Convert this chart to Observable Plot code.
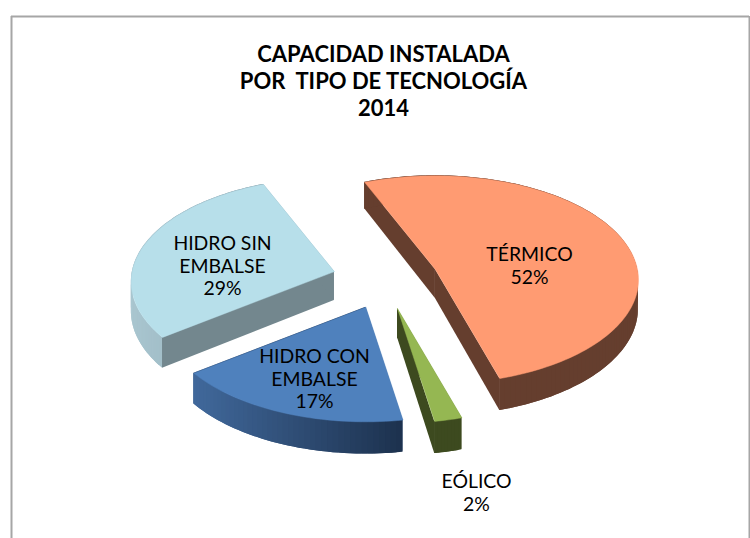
<!DOCTYPE html>
<html>
<head>
<meta charset="utf-8">
<script src="https://cdn.jsdelivr.net/npm/d3@7"></script>
<script src="https://cdn.jsdelivr.net/npm/@observablehq/plot@0.6"></script>
<style>html,body{margin:0;padding:0;background:#fff}svg{display:block}</style>
</head>
<body>
<div id="chart"></div>
<script>
// Data
const titleLines = ["CAPACIDAD INSTALADA", "POR  TIPO DE TECNOLOGÍA", "2014"];
const categories = ["TÉRMICO", "EÓLICO", "HIDRO CON\nEMBALSE", "HIDRO SIN\nEMBALSE"];
const shares = [51.6, 2, 17.4, 29];
// Styles
const topColors = ["#ff9b72", "#95b752", "#4f81bd", "#b7dfea"];
const radialWallColors = ["#653e2e", "#3d4a1f", "#2f4d75", "#73878e"];
const rimFrom = ["#653e2e", "#3d4a1f", "#41699c", "#a9c6d0"];
const rimTo = ["#653e2e", "#3d4a1f", "#1d324f", "#8fa8b2"];

// Layout of the projected pie (pixels of the drawing)
const W = 750, H = 538;
const center = [385, 279], explode = [53, 30];
const rx = 202, ry = 103, persp = 0.1, depth = 29, startDeg = -22.5;
const labelXY = [[529, 265], [476, 492], [314, 378], [222, 265]];

const rad = Math.PI / 180;
const total = d3.sum(shares);
function project(apex, deg) {
  const X = Math.sin(deg * rad), Y = Math.cos(deg * rad), s = 1 / (1 + persp * Y);
  return [apex[0] + rx * X * s, apex[1] - ry * Y * s, depth * s];
}
let acc = startDeg;
const slices = shares.map((v, i) => {
  const a0 = acc, a1 = acc + v / total * 360;
  acc = a1;
  const mid = (a0 + a1) / 2;
  const apex = [center[0] + explode[0] * Math.sin(mid * rad), center[1] - explode[1] * Math.cos(mid * rad), depth];
  const arc = d3.range(0, 1.0001, 1 / Math.max(8, Math.ceil((a1 - a0) / 1.5))).map(t => project(apex, a0 + t * (a1 - a0)));
  return {i, a0, a1, apex, arc};
});

const marks = [];
// frame
marks.push(Plot.ruleX([11, 749], {y1: 16, y2: H, stroke: "#a6a6a6", strokeWidth: 2}));
marks.push(Plot.ruleY([16], {x1: 11, x2: 749, stroke: "#a6a6a6", strokeWidth: 2}));

slices.forEach(s => {
  // straight walls
  [s.arc[0], s.arc[s.arc.length - 1]].forEach(p => {
    marks.push(Plot.areaY([p, s.apex], {
      x: d => d[0], y1: d => d[1], y2: d => d[1] + d[2],
      fill: radialWallColors[s.i]
    }));
  });
  // curved wall, in overlapping strips for its shading
  const xs = d3.extent(s.arc, d => d[0]);
  s.arc.slice(0, -1).forEach((q, k) => {
    const t = (q[0] - xs[0]) / (xs[1] - xs[0] || 1);
    const c = d3.interpolateRgb(rimFrom[s.i], rimTo[s.i])(t);
    const rest = s.arc.slice(k, k + 3);
    marks.push(Plot.areaY(rest, {
      x: d => d[0], y1: d => d[1], y2: d => d[1] + d[2], fill: c
    }));
  });
});
// top faces
slices.forEach(s => {
  const outline = [s.apex, ...s.arc, s.apex];
  marks.push(Plot.line(outline, {
    x: d => d[0], y: d => d[1], fill: topColors[s.i], stroke: topColors[s.i], strokeWidth: 0.5, curve: "linear"
  }));
});
// texts
marks.push(Plot.text(titleLines, {
  x: () => 383, y: (d, i) => 54 + i * 27, text: d => d,
  fontFamily: "Lato", fontWeight: 700, fontSize: 22, fill: "#000", lineAnchor: "middle"
}));
marks.push(Plot.text(slices, {
  x: s => labelXY[s.i][0], y: s => labelXY[s.i][1],
  text: s => `${categories[s.i]}\n${Math.round(shares[s.i])}%`,
  fontFamily: "Lato", fontSize: 19.4, fill: "#000", lineAnchor: "middle", lineHeight: 1.17
}));

const chart = Plot.plot({
  width: W, height: H, margin: 0,
  x: {domain: [0, W], range: [0, W], axis: null},
  y: {domain: [0, H], range: [0, H], axis: null},
  style: {background: "#fff"},
  marks
});
document.getElementById("chart").appendChild(chart);
</script>
</body>
</html>
